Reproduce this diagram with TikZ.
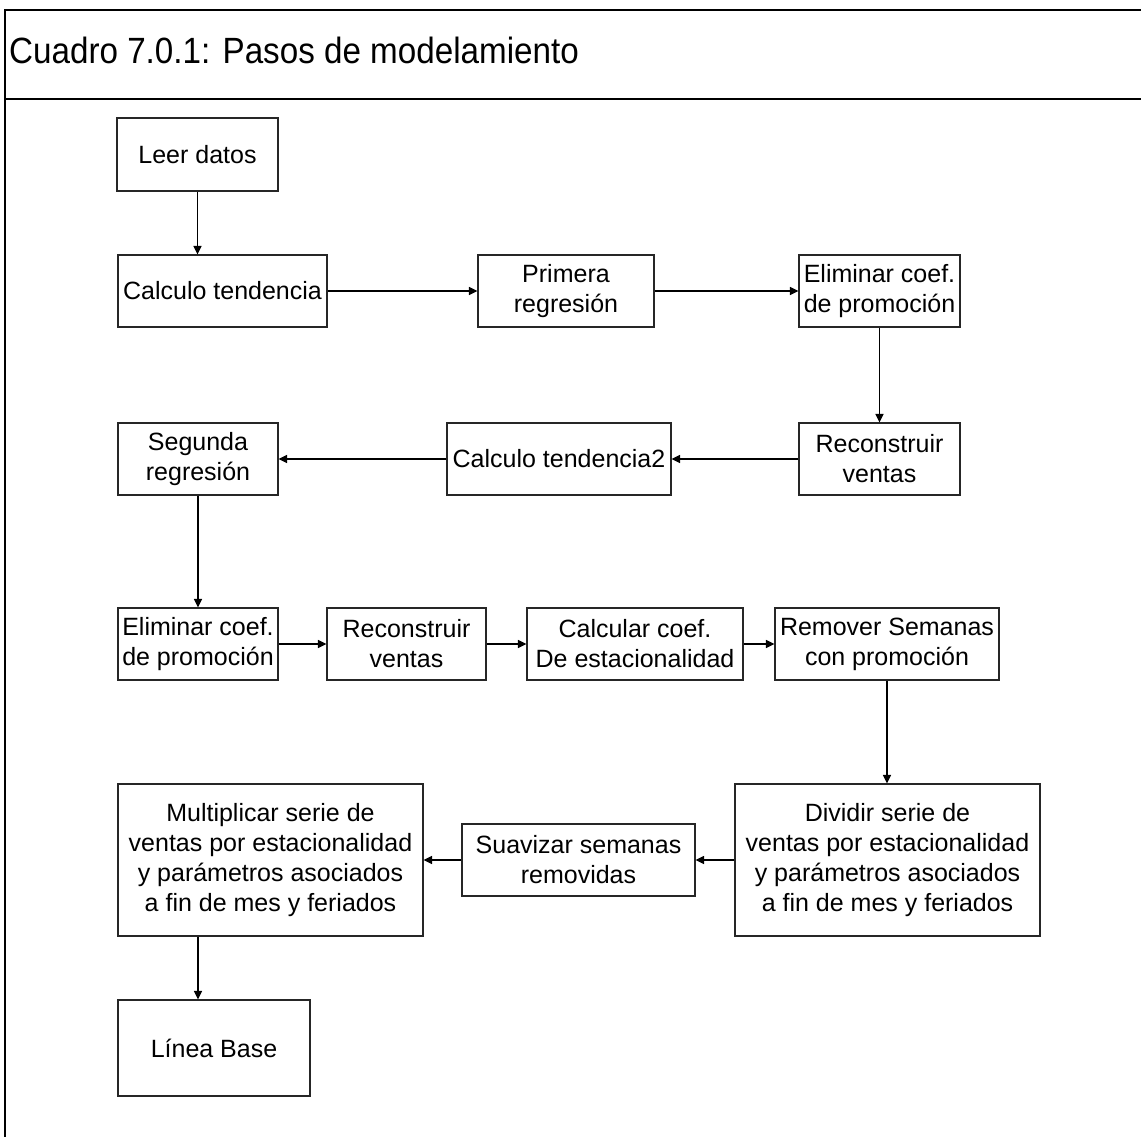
\documentclass[tikz,border=0pt]{standalone}
\usepackage{fontspec}
\usepackage{graphicx}
\setmainfont{Liberation Sans}
\usetikzlibrary{arrows.meta}
\begin{document}
\begin{tikzpicture}[x=1pt,y=-1pt,
  box/.style={draw=black!85,line width=1.2pt,rectangle,inner sep=0pt,align=center,
    font=\fontsize{25}{30}\selectfont},
  arr/.style={line width=1.3pt,-{Triangle[length=8.5pt,width=8pt]}},
  frame/.style={line width=2.8pt}]
\useasboundingbox (0,0) rectangle (1141,1137);
\clip (0,0) rectangle (1141,1137);
\fill[white] (0,0) rectangle (1141,1137);
% frame
\draw[frame] (1150,10) -- (5,10) -- (5,1150);
\draw[frame] (5,99) -- (1150,99);
\node[anchor=base west,inner sep=0pt,font=\fontsize{33.2}{38}\selectfont] (title) at (9,64) {\scalebox{1}[1.1]{Cuadro 7.0.1: Pasos de modelamiento}};
% boxes
\node[box,minimum width=161pt,minimum height=73pt] (leer) at (197.5,154.5) {Leer datos};
\node[box,minimum width=209pt,minimum height=72pt] (calc1) at (222.5,291) {Calculo tendencia};
\node[box,minimum width=176pt,minimum height=72pt] (prim) at (566,291) {Primera\\regresión};
\node[box,minimum width=161pt,minimum height=72pt] (elim1) at (879.5,291) {Eliminar coef.\\de promoción};
\node[box,minimum width=161pt,minimum height=72pt] (recon1) at (879.5,459) {Reconstruir\\ventas};
\node[box,minimum width=224pt,minimum height=72pt] (calc2) at (559,459) {Calculo tendencia2};
\node[box,minimum width=160pt,minimum height=72pt] (seg) at (198,459) {Segunda\\regresión};
\node[box,minimum width=160pt,minimum height=72pt] (elim2) at (198,644) {Eliminar coef.\\de promoción};
\node[box,minimum width=159pt,minimum height=72pt] (recon2) at (406.5,644) {Reconstruir\\ventas};
\node[box,minimum width=216pt,minimum height=72pt] (calcest) at (635,644) {Calcular coef.\\De estacionalidad};
\node[box,minimum width=224pt,minimum height=72pt] (remover) at (887,644) {Remover Semanas\\con promoción};
\node[box,minimum width=305pt,minimum height=152pt] (dividir) at (887.5,860) {Dividir serie de\\ventas por estacionalidad\\y parámetros asociados\\a fin de mes y feriados};
\node[box,minimum width=233pt,minimum height=72pt] (suav) at (578.5,860) {Suavizar semanas\\removidas};
\node[box,minimum width=305pt,minimum height=152pt] (mult) at (270.5,860) {Multiplicar serie de\\ventas por estacionalidad\\y parámetros asociados\\a fin de mes y feriados};
\node[box,minimum width=192pt,minimum height=96pt] (linea) at (214,1048) {Línea Base};
% connectors
\draw[arr] (leer.south) -- (leer.south |- calc1.north);
\draw[arr] (calc1.east) -- (prim.west);
\draw[arr] (prim.east) -- (elim1.west);
\draw[arr] (elim1.south) -- (recon1.north);
\draw[arr] (recon1.west) -- (calc2.east);
\draw[arr] (calc2.west) -- (seg.east);
\draw[arr] (seg.south) -- (elim2.north);
\draw[arr] (elim2.east) -- (recon2.west);
\draw[arr] (recon2.east) -- (calcest.west);
\draw[arr] (calcest.east) -- (remover.west);
\draw[arr] (remover.south) -- (remover.south |- dividir.north);
\draw[arr] (dividir.west) -- (suav.east);
\draw[arr] (suav.west) -- (mult.east);
\draw[arr] (mult.south -| seg.south) -- (linea.north -| seg.south);
\end{tikzpicture}
\end{document}
